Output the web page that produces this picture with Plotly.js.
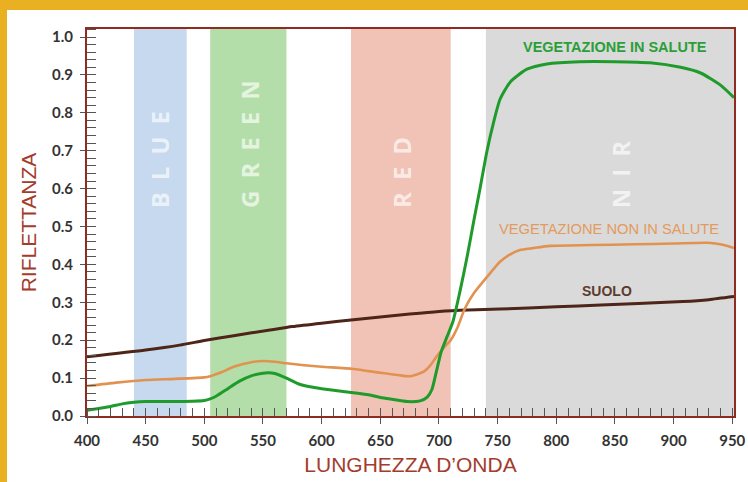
<!DOCTYPE html>
<html>
<head>
<meta charset="utf-8">
<script src="https://cdn.plot.ly/plotly-3.0.1.min.js"></script>
<style>
  html, body { margin: 0; padding: 0; background: #ffffff; }
  #wrap { position: relative; width: 748px; height: 482px; overflow: hidden; }
  #chart { position: absolute; left: 0; top: 0; width: 748px; height: 482px; }
  .bar-top { position: absolute; left: 0; top: 0; width: 748px; height: 10px; background: #E9B122; z-index: 5; }
  .bar-left { position: absolute; left: 0; top: 0; width: 7px; height: 482px; background: #E9B122; z-index: 5; }
</style>
</head>
<body>
<div id="wrap">
  <div id="chart"></div>
  <div class="bar-top"></div>
  <div class="bar-left"></div>
</div>
<script>
// ---- Data ----
const bandNames = ['B\u2002L\u2002U\u2002E', 'G\u2002R\u2002E\u2002E\u2002N', 'R\u2002E\u2002D', 'N\u2002I\u2002R'];
const bandStart = [440, 505, 625, 740];
const bandEnd   = [485, 570, 710, 951.5];
const bandLabelX = [462, 538, 668, 855];

const healthyX = [400,410,420,430,440,450,470,490,500,505,510,520,530,540,550,555,560,570,580,590,600,620,640,650,660,673,684,690,694,698,702,707,712,718,724,730,735,741,747,752,761,775,792,820,850,880,906,923,940,951.5];
const healthyY = [0.015,0.02,0.025,0.032,0.036,0.038,0.038,0.039,0.041,0.045,0.052,0.072,0.092,0.106,0.113,0.114,0.112,0.1,0.085,0.077,0.072,0.064,0.056,0.049,0.044,0.038,0.04,0.05,0.07,0.12,0.17,0.21,0.25,0.33,0.42,0.52,0.6,0.7,0.78,0.835,0.882,0.915,0.929,0.935,0.935,0.932,0.92,0.905,0.873,0.84];

const stressedX = [400,425,450,475,500,505,515,525,540,550,560,570,585,600,627,650,665,676,687,693,698,704,710,716,722,730,741,752,760,769,780,795,830,866,900,929,942,951.5];
const stressedY = [0.079,0.088,0.095,0.098,0.102,0.105,0.116,0.13,0.142,0.145,0.143,0.139,0.134,0.13,0.124,0.114,0.108,0.105,0.117,0.135,0.157,0.18,0.2,0.235,0.283,0.325,0.367,0.407,0.425,0.438,0.443,0.449,0.451,0.453,0.455,0.457,0.452,0.443];

const soilX = [400,450,479,500,525,556,575,600,625,650,675,700,725,752,800,838,870,908,930,951.5];
const soilY = [0.156,0.174,0.187,0.199,0.212,0.227,0.236,0.245,0.253,0.261,0.269,0.276,0.28,0.282,0.288,0.293,0.297,0.302,0.307,0.315];

const seriesNames = ['VEGETAZIONE IN SALUTE', 'VEGETAZIONE NON IN SALUTE', 'SUOLO'];
const xTitle = 'LUNGHEZZA D\u2019ONDA';
const yTitle = 'RIFLETTANZA';

// ---- Styles ----
const bandColors = ['#C6D9EE', '#B4DEA9', '#F1C3B6', '#DADADB'];
const lineColors = ['#1E9B2B', '#E29250', '#4E2519'];
const labelColors = ['#2A9F38', '#E39B5C', '#5C3A2E'];
const axisRed = '#8E2C22';
const titleRed = '#A43C2D';
const tickFont = { family: 'Lato, "DejaVu Sans", sans-serif', size: 15, color: '#333333', weight: 'bold' };

const traces = [
  { x: soilX, y: soilY, mode: 'lines', line: { color: lineColors[2], width: 3, shape: 'spline', smoothing: 0.6 }, name: seriesNames[2], hoverinfo: 'skip' },
  { x: stressedX, y: stressedY, mode: 'lines', line: { color: lineColors[1], width: 2.6, shape: 'spline', smoothing: 0.6 }, name: seriesNames[1], hoverinfo: 'skip' },
  { x: healthyX, y: healthyY, mode: 'lines', line: { color: lineColors[0], width: 3, shape: 'spline', smoothing: 0.6 }, name: seriesNames[0], hoverinfo: 'skip' },
  { x: [null], y: [null], xaxis: 'x2', yaxis: 'y2', mode: 'lines', showlegend: false, hoverinfo: 'skip' }
];

const shapes = bandStart.map((s, i) => ({
  type: 'rect', xref: 'x', yref: 'paper', x0: s, x1: bandEnd[i], y0: 0, y1: 1,
  fillcolor: bandColors[i], line: { width: 0 }, layer: 'below'
}));

const annotations = bandNames.map((t, i) => ({
  text: t, x: bandLabelX[i], y: 0.5435, xref: 'x', yref: 'y',
  xanchor: 'center', yanchor: 'bottom', textangle: -90, showarrow: false,
  font: { family: '"Open Sans", sans-serif', size: 24, color: 'rgba(255,255,255,0.68)', weight: 'bold' }
}));

annotations.push(
  { text: seriesNames[0], x: 850, y: 0.974, xref: 'x', yref: 'y', showarrow: false, xanchor: 'center', yanchor: 'middle',
    font: { family: '"Liberation Sans", Arial, sans-serif', size: 14.5, color: labelColors[0], weight: 'bold' } },
  { text: seriesNames[1], x: 845, y: 0.493, xref: 'x', yref: 'y', showarrow: false, xanchor: 'center', yanchor: 'middle',
    font: { family: '"Liberation Sans", Arial, sans-serif', size: 14.7, color: labelColors[1] } },
  { text: seriesNames[2], x: 843.5, y: 0.33, xref: 'x', yref: 'y', showarrow: false, xanchor: 'center', yanchor: 'middle',
    font: { family: '"Liberation Sans", Arial, sans-serif', size: 14, color: labelColors[2], weight: 'bold' } }
);

const xRange = [400, 951.5];
const yRange = [0, 1.0211];

const layout = {
  width: 748, height: 482,
  margin: { l: 87, r: 14, t: 29, b: 66, pad: 0 },
  paper_bgcolor: '#ffffff', plot_bgcolor: '#ffffff',
  showlegend: false,
  xaxis: {
    range: xRange, tick0: 400, dtick: 50, ticks: 'outside', ticklen: 6, tickwidth: 1, tickcolor: '#555',
    minor: { dtick: 10, tick0: 400, ticks: 'inside', ticklen: 8, tickwidth: 1, tickcolor: '#555' },
    showline: true, linecolor: axisRed, linewidth: 2, mirror: true,
    showgrid: false, zeroline: false, tickfont: tickFont, ticklabelstandoff: 4,
    title: { text: xTitle, font: { family: '"Liberation Sans", Arial, sans-serif', size: 21, color: titleRed }, standoff: 9 }
  },
  yaxis: {
    range: yRange, tick0: 0, dtick: 0.1, tickformat: '.1f', ticks: 'outside', ticklen: 5, tickwidth: 1, tickcolor: '#555',
    minor: { dtick: 0.02, tick0: 0, ticks: 'inside', ticklen: 9, tickwidth: 1, tickcolor: '#555' },
    showline: true, linecolor: axisRed, linewidth: 2, mirror: true,
    showgrid: false, zeroline: false, tickfont: tickFont, ticklabelstandoff: 4,
    title: { text: yTitle, font: { family: '"Liberation Sans", Arial, sans-serif', size: 21, color: titleRed }, standoff: 10 }
  },
  xaxis2: {
    overlaying: 'x', anchor: 'y', range: xRange, tick0: 400, dtick: 50, ticks: 'inside', ticklen: 8, tickwidth: 1, tickcolor: '#555',
    showticklabels: false, showline: false, showgrid: false, zeroline: false
  },
  yaxis2: {
    overlaying: 'y', anchor: 'x', side: 'left', range: yRange, tick0: 0, dtick: 0.1, ticks: 'inside', ticklen: 9, tickwidth: 1, tickcolor: '#555',
    showticklabels: false, showline: false, showgrid: false, zeroline: false
  },
  shapes: shapes,
  annotations: annotations
};

Plotly.newPlot('chart', traces, layout, { displayModeBar: false, staticPlot: true });
</script>
</body>
</html>
